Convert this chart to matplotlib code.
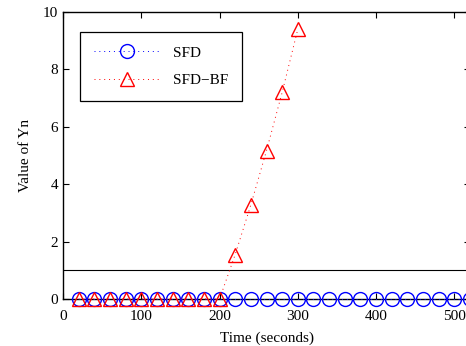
import matplotlib
matplotlib.use("Agg")
import matplotlib.pyplot as plt
import numpy as np

plt.rcParams['font.family'] = ['Liberation Serif', 'DejaVu Serif']
plt.rcParams['mathtext.fontset'] = 'stix'

time = [20, 40, 60, 80, 100, 120, 140, 160, 180, 200, 220, 240, 260, 280, 300,
        320, 340, 360, 380, 400, 420, 440, 460, 480, 500, 520]
sfd = [0] * len(time)
time_bf = [20, 40, 60, 80, 100, 120, 140, 160, 180, 200, 220, 240, 260, 280, 300]
sfd_bf = [0, 0, 0, 0, 0, 0, 0, 0, 0, 0, 1.55, 3.28, 5.17, 7.2, 9.4]
threshold = 1.0

fig = plt.figure(figsize=(4.66, 3.46), dpi=100)
ax = fig.add_axes([63/466, 47/346, (470-63)/466, 287/346])

dot = (0, (1, 4))
ax.plot(time, sfd, linestyle=dot, color='blue', marker='o', markersize=10,
        markerfacecolor='none', markeredgecolor='blue', linewidth=0.7, label='SFD',
        clip_on=False, zorder=3)
ax.plot(time_bf, sfd_bf, linestyle=dot, color='red', marker='^', markersize=10,
        markerfacecolor='none', markeredgecolor='red', linewidth=0.7, label='SFD\u2212BF',
        clip_on=False, zorder=4)
ax.axhline(threshold, color='black', linewidth=0.8)

ax.set_xlim(0, 520)
ax.set_ylim(0, 10)
ax.set_xticks([0, 100, 200, 300, 400, 500])
ax.set_yticks([0, 2, 4, 6, 8, 10])
ax.tick_params(direction='in', top=True, right=True, length=4, labelsize=11)
ax.tick_params(axis='x', pad=8)
for s in ax.spines.values():
    s.set_linewidth(1.0)
ax.set_xlabel('Time (seconds)', fontsize=11, labelpad=6)
ax.set_ylabel('Value of Yn', fontsize=11, labelpad=8)

leg = ax.legend(loc='upper left', bbox_to_anchor=(17/407, 0.930), borderaxespad=0,
                fontsize=11, fancybox=False, framealpha=1, edgecolor='black',
                handlelength=4.3, borderpad=0.9, labelspacing=0.9, handletextpad=0.9)
leg.get_frame().set_linewidth(0.9)

fig.savefig('out.png', dpi=100)
